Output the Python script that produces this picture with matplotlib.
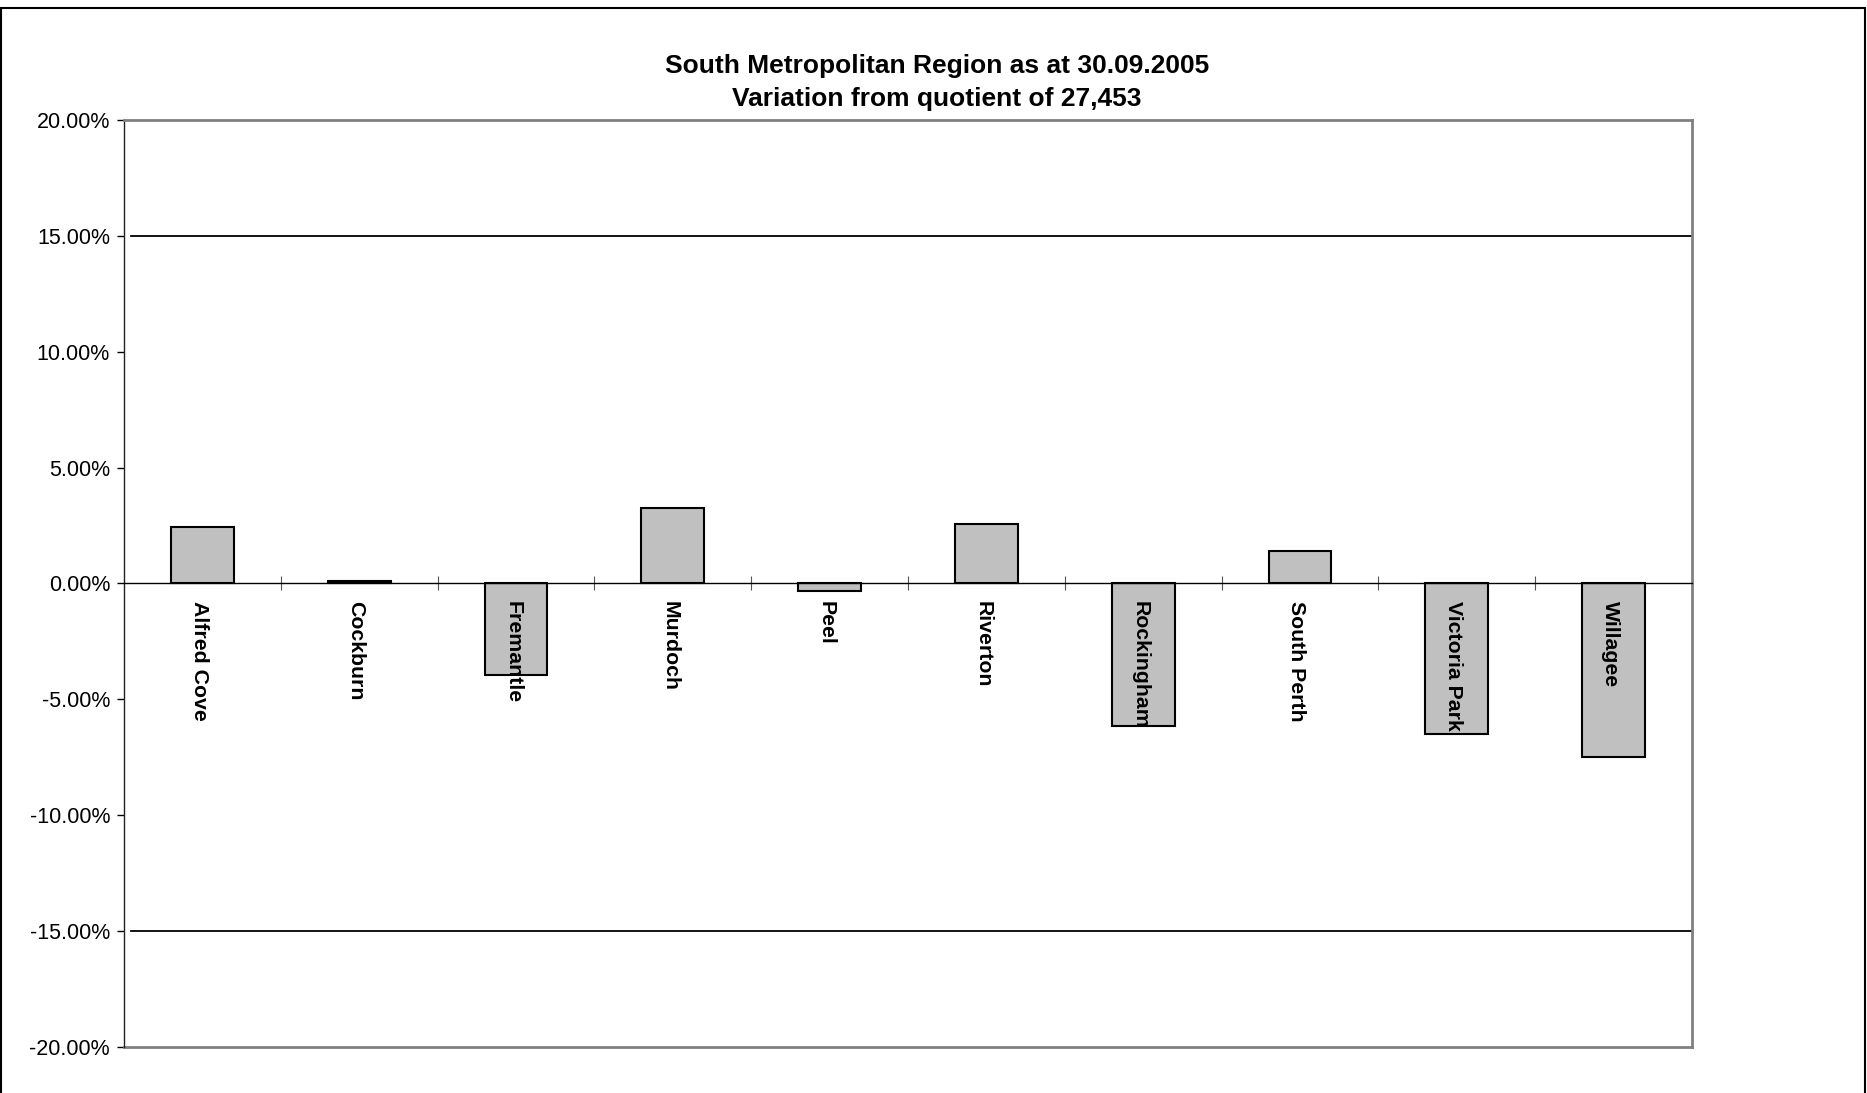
import numpy as np
import matplotlib
matplotlib.use("Agg")
import matplotlib.pyplot as plt
import matplotlib.ticker as ticker
from matplotlib.patches import Rectangle

plt.rcParams["font.family"] = ["Liberation Sans", "DejaVu Sans"]

districts = ["Alfred Cove", "Cockburn", "Fremantle", "Murdoch", "Peel",
             "Riverton", "Rockingham", "South Perth", "Victoria Park", "Willagee"]
variation_pct = [2.44, 0.10, -3.94, 3.26, -0.33, 2.58, -6.15, 1.41, -6.52, -7.50]
tolerance_pct = [15.0, -15.0]
y_ticks = [-20, -15, -10, -5, 0, 5, 10, 15, 20]

BAR_FILL = "#C0C0C0"
FRAME_GRAY = "#808080"

fig = plt.figure(figsize=(18.67, 10.93), dpi=100)
ax = fig.add_axes([0.0664, 0.0425, 0.9063 - 0.0664, 0.890 - 0.0425])

x = np.arange(len(districts))
ax.bar(x, variation_pct, width=0.40, color=BAR_FILL, edgecolor="black",
       linewidth=1.5, zorder=3)

ax.set_xlim(-0.5, len(districts) - 0.5)
ax.set_ylim(y_ticks[0], y_ticks[-1])

# tolerance lines at +/-15%
for t in tolerance_pct:
    ax.axhline(t, xmin=0.0046, xmax=1.0, color="black", linewidth=1.3, zorder=2)

# category axis sits on the zero line
ax.spines["bottom"].set_position(("data", 0))
ax.spines["bottom"].set_color("black")
ax.spines["bottom"].set_linewidth(1.0)
ax.spines["bottom"].set_zorder(4)
ax.spines["left"].set_color("#222222")
ax.spines["left"].set_linewidth(1.0)
for s in ("top", "right"):
    ax.spines[s].set_color(FRAME_GRAY)
    ax.spines[s].set_linewidth(2.0)
ax.plot([0, 1], [0, 0], transform=ax.transAxes, color=FRAME_GRAY,
        linewidth=2.0, clip_on=False)

ax.xaxis.set_major_locator(ticker.FixedLocator(x))
ax.xaxis.set_minor_locator(ticker.FixedLocator(x[:-1] + 0.5))
ax.tick_params(axis="x", which="major", length=0, labelbottom=False)
ax.tick_params(axis="x", which="minor", direction="inout", length=10,
               width=0.8, color="#555555")

for xi, name in zip(x, districts):
    ax.annotate(name, xy=(xi - 0.02, 0), xytext=(0, -13), textcoords="offset points",
                rotation=270, ha="center", va="top", fontsize=15.3,
                fontweight="bold", zorder=5)

ax.yaxis.set_major_locator(ticker.FixedLocator(y_ticks))
ax.yaxis.set_major_formatter(ticker.FuncFormatter(lambda v, p: f"{v:.2f}%"))
ax.tick_params(axis="y", direction="out", length=5, width=1.0, labelsize=15.5,
               pad=5)

fig.text(0.502, 0.940, "South Metropolitan Region as at 30.09.2005",
         ha="center", va="center", fontsize=19, fontweight="bold")
fig.text(0.502, 0.909, "Variation from quotient of 27,453",
         ha="center", va="center", fontsize=19, fontweight="bold")

# outer chart border
fig.add_artist(Rectangle((0.0006, -0.05), 0.9982, 1.05 - 0.0076,
                         transform=fig.transFigure, fill=False,
                         edgecolor="black", linewidth=1.5))

fig.savefig("out.png", dpi=100)
